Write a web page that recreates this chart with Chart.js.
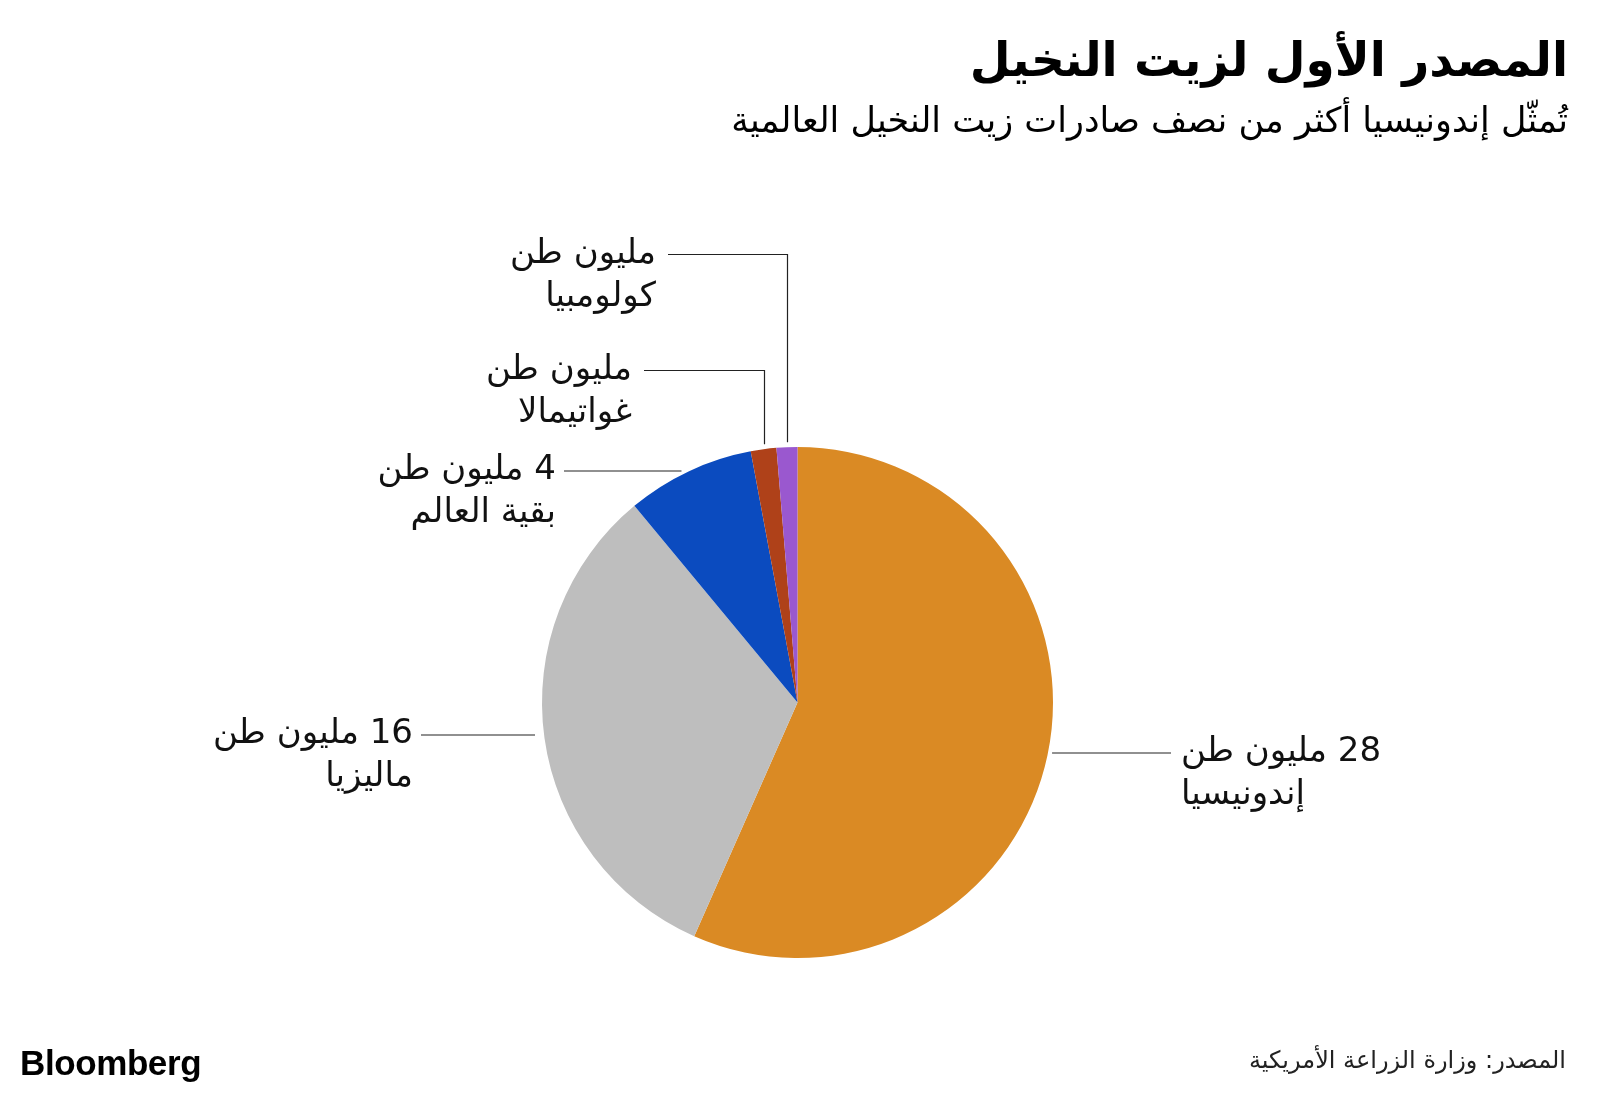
<!DOCTYPE html>
<html>
<head>
<meta charset="utf-8">
<script src="https://cdn.jsdelivr.net/npm/chart.js@4"></script>
<style>
  html, body { margin: 0; padding: 0; background: #fff; }
  #wrap { position: relative; width: 1600px; height: 1095px; overflow: hidden; }
  #chart { position: absolute; left: 0; top: 0; }
  .t { position: absolute; direction: rtl; font-family: "DejaVu Sans", sans-serif; color: #000; white-space: nowrap; }
  #title { right: 32px; top: 32px; font-size: 47px; font-weight: bold; }
  #subtitle { right: 32px; top: 100px; font-size: 35px; }
  #source { right: 34px; top: 1046px; font-size: 24px; color: #222; }
  #logo { position: absolute; left: 20px; top: 1043px; font-family: "Liberation Sans", Arial, sans-serif; font-weight: bold; font-size: 35px; letter-spacing: -0.4px; color: #000; }
</style>
</head>
<body>
<div id="wrap">
  <canvas id="chart" width="1600" height="1095"></canvas>
  <div class="t" id="title">المصدر الأول لزيت النخيل</div>
  <div class="t" id="subtitle">تُمثّل إندونيسيا أكثر من نصف صادرات زيت النخيل العالمية</div>
  <div class="t" id="source">المصدر: وزارة الزراعة الأمريكية</div>
  <div id="logo">Bloomberg</div>
</div>
<script>
// data
const countries = ['إندونيسيا', 'ماليزيا', 'بقية العالم', 'غواتيمالا', 'كولومبيا'];
const exportsMt = [28, 16, 4, 0.8, 0.65];
const valueLabels = ['28 مليون طن', '16 مليون طن', '4 مليون طن', 'مليون طن', 'مليون طن'];
const sliceColors = ['#DA8A24', '#BEBEBE', '#0B4BBF', '#AF4119', '#9A58CF'];

// where each label sits (page pixels)
const labelLayout = [
  { kind: 'h', dy: 50, side: 'right', lineEnd: 1171 },
  { kind: 'h', dy: 32, side: 'left', lineEnd: 421 },
  { kind: 'h', dy: -232, side: 'left', lineEnd: 564 },
  { kind: 'v', y: 370, lineEnd: 644 },
  { kind: 'v', y: 254, lineEnd: 668 },
];

const labelFont = '34px "DejaVu Sans", sans-serif';
const lineGap = 43;

// leader lines + labels
const leaderPlugin = {
  id: 'leaders',
  afterDraw(chart) {
    const ctx = chart.ctx;
    const arcs = chart.getDatasetMeta(0).data;
    ctx.save();
    ctx.strokeStyle = '#222';
    ctx.lineWidth = 1.2;
    ctx.fillStyle = '#111';
    ctx.font = labelFont;
    ctx.direction = 'rtl';
    ctx.textBaseline = 'middle';
    labelLayout.forEach((lay, i) => {
      const arc = arcs[i];
      const cx = arc.x, cy = arc.y, r = arc.outerRadius;
      let y, textX, align;
      ctx.beginPath();
      if (lay.kind === 'h') {
        y = cy + lay.dy;
        const half = Math.sqrt(r * r - lay.dy * lay.dy);
        if (lay.side === 'right') {
          ctx.moveTo(cx + half + 4, y + 0.5);
          ctx.lineTo(lay.lineEnd, y + 0.5);
          textX = lay.lineEnd + 10;
          align = 'left';
        } else {
          ctx.moveTo(cx - half - 9, y + 0.5);
          ctx.lineTo(lay.lineEnd, y + 0.5);
          textX = lay.lineEnd - 8;
          align = 'right';
        }
      } else {
        y = lay.y;
        const mid = (arc.startAngle + arc.endAngle) / 2;
        const vx = Math.round(cx + r * Math.cos(mid)) + 0.5;
        const top = cy - Math.sqrt(r * r - (vx - cx) * (vx - cx)) - 5;
        ctx.moveTo(lay.lineEnd, y + 0.5);
        ctx.lineTo(vx, y + 0.5);
        ctx.lineTo(vx, top);
        textX = lay.lineEnd - 12;
        align = 'right';
      }
      ctx.stroke();
      ctx.textAlign = align;
      ctx.fillText(valueLabels[i], textX, y);
      ctx.fillText(countries[i], textX, y + lineGap);
    });
    ctx.restore();
  }
};

new Chart(document.getElementById('chart'), {
  type: 'pie',
  data: {
    labels: countries,
    datasets: [{
      data: exportsMt,
      backgroundColor: sliceColors,
      borderWidth: 0,
    }],
  },
  options: {
    responsive: false,
    animation: false,
    layout: { padding: { left: 542, right: 547, top: 447, bottom: 137 } },
    plugins: {
      legend: { display: false },
      tooltip: { enabled: false },
    },
  },
  plugins: [leaderPlugin],
});
</script>
</body>
</html>
